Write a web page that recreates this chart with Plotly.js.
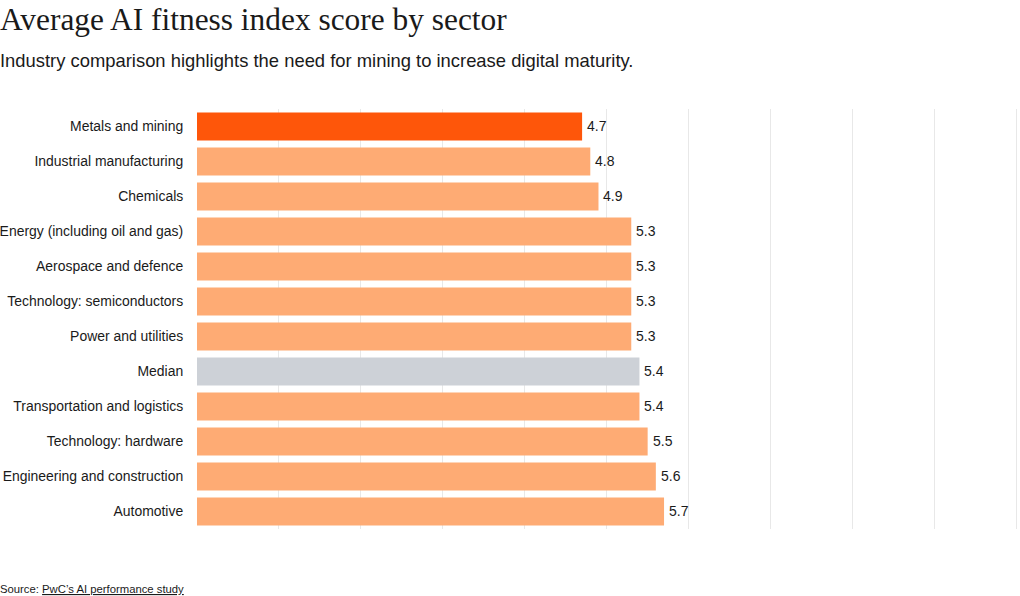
<!DOCTYPE html>
<html>
<head>
<meta charset="utf-8">
<script src="https://cdn.plot.ly/plotly-3.0.1.min.js"></script>
<style>
  html, body { margin: 0; padding: 0; background: #fff; }
  #chart { width: 1020px; height: 596px; }
</style>
</head>
<body>
<div id="chart"></div>
<script>
// Sectors, listed top to bottom
const sectors = [
  "Metals and mining",
  "Industrial manufacturing",
  "Chemicals",
  "Energy (including oil and gas)",
  "Aerospace and defence",
  "Technology: semiconductors",
  "Power and utilities",
  "Median",
  "Transportation and logistics",
  "Technology: hardware",
  "Engineering and construction",
  "Automotive"
];

// Average AI fitness index score per sector
const scores = [4.7, 4.8, 4.9, 5.3, 5.3, 5.3, 5.3, 5.4, 5.4, 5.5, 5.6, 5.7];

const highlightSector = "Metals and mining";
const medianLabel = "Median";

const colorHighlight = "#fe560a";
const colorDefault = "#feab74";
const colorMedian = "#cdd1d7";

const barColors = sectors.map(s =>
  s === highlightSector ? colorHighlight : (s === medianLabel ? colorMedian : colorDefault)
);

const trace = {
  type: "bar",
  orientation: "h",
  y: sectors,
  x: scores,
  marker: { color: barColors, line: { width: 0 } },
  hoverinfo: "skip"
};

// Value labels just past the end of each bar
const valueLabels = sectors.map((s, i) => ({
  x: scores[i],
  y: s,
  xref: "x",
  yref: "y",
  text: scores[i].toFixed(1),
  showarrow: false,
  xanchor: "left",
  yanchor: "middle",
  xshift: 3,
  yshift: 1,
  font: { family: "Liberation Sans, Arial, sans-serif", size: 14, color: "#1a1a1a" }
}));

const L = 197, R = 2, T = 109, B = 67;
const plotW = 1020 - L - R, plotH = 596 - T - B;
const px = v => (v - L) / plotW;        // pixel x to paper x
const py = v => (596 - B - v) / plotH;  // pixel y to paper y

const layout = {
  width: 1020,
  height: 596,
  margin: { l: L, r: R, t: T, b: B },
  paper_bgcolor: "#ffffff",
  plot_bgcolor: "#ffffff",
  bargap: 0.2,
  showlegend: false,
  title: {
    text: "Average AI fitness index score by sector",
    font: { family: "Liberation Serif, Times New Roman, serif", size: 31.4, color: "#1a1a1a" },
    xref: "container",
    yref: "container",
    x: 0,
    xanchor: "left",
    y: 1 - 19 / 596,
    yanchor: "middle",
    pad: { l: 0, t: 0 }
  },
  xaxis: {
    range: [0, 10.02],
    dtick: 1,
    tick0: 0,
    showticklabels: false,
    showgrid: true,
    gridcolor: "#e8e8e8",
    gridwidth: 1,
    zeroline: false,
    showline: false,
    fixedrange: true
  },
  yaxis: {
    autorange: "reversed",
    showgrid: false,
    zeroline: false,
    showline: false,
    ticks: "outside",
    ticklen: 10,
    tickcolor: "rgba(0,0,0,0)",
    tickfont: { family: "Liberation Sans, Arial, sans-serif", size: 13.95, color: "#1a1a1a" },
    fixedrange: true
  },
  annotations: [
    {
      xref: "paper", yref: "paper",
      x: px(0), y: py(61),
      xanchor: "left", yanchor: "middle",
      xshift: -2,
      showarrow: false,
      text: "Industry comparison highlights the need for mining to increase digital maturity.",
      font: { family: "Liberation Sans, Arial, sans-serif", size: 18.4, color: "#1a1a1a" }
    },
    {
      xref: "paper", yref: "paper",
      x: px(0), y: py(589),
      xanchor: "left", yanchor: "middle",
      xshift: -2,
      showarrow: false,
      text: "Source: <span style=\"text-decoration:underline\">PwC\u2019s AI performance study</span>",
      font: { family: "Liberation Sans, Arial, sans-serif", size: 11.3, color: "#1a1a1a" }
    }
  ].concat(valueLabels)
};

Plotly.newPlot("chart", [trace], layout, { displayModeBar: false, staticPlot: true });
</script>
</body>
</html>
